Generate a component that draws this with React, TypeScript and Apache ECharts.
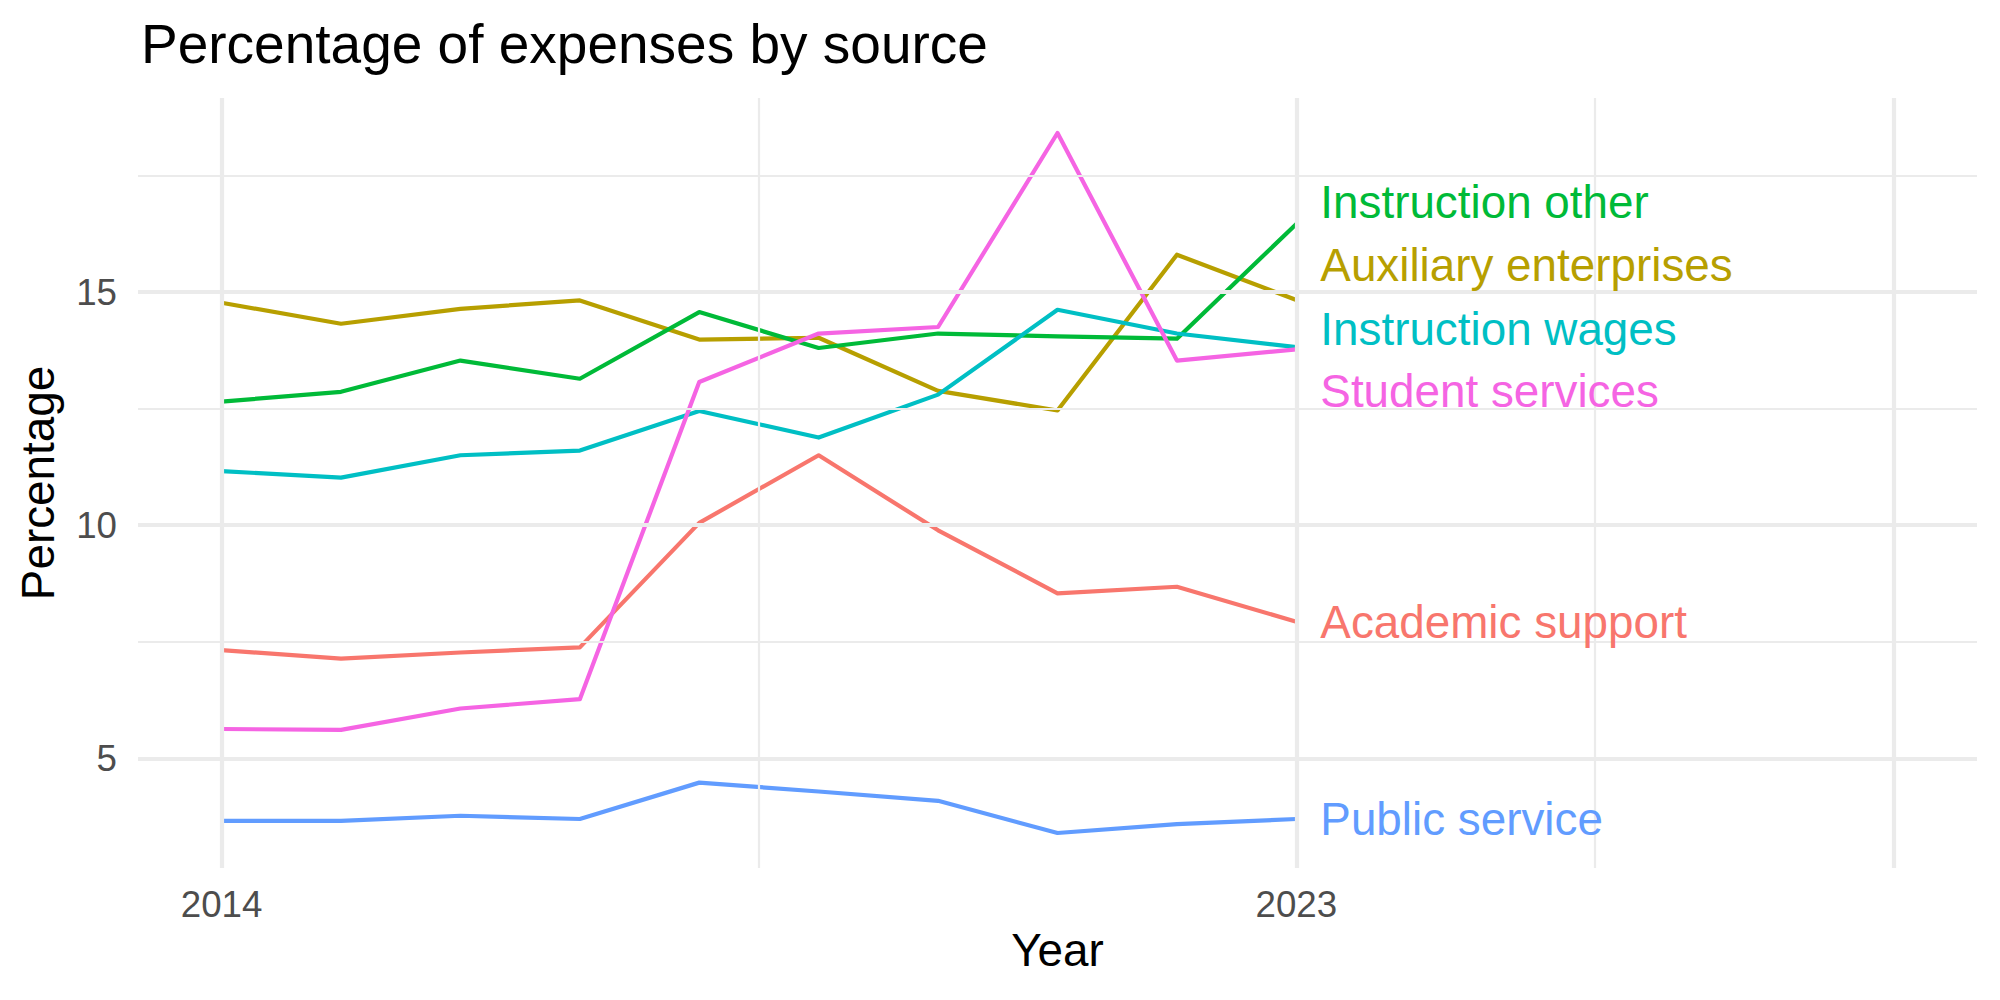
import React, { useEffect, useRef } from "react";
import * as echarts from "echarts";

const years = [2014, 2015, 2016, 2017, 2018, 2019, 2020, 2021, 2022, 2023];

const academicSupport = [7.32, 7.14, 7.27, 7.38, 10.05, 11.5, 9.89, 8.54, 8.68, 7.93];
const auxiliaryEnterprises = [14.77, 14.32, 14.64, 14.82, 13.98, 14.02, 12.88, 12.46, 15.8, 14.83];
const instructionOther = [12.65, 12.86, 13.53, 13.14, 14.57, 13.8, 14.11, 14.05, 14.0, 16.46];
const instructionWages = [11.16, 11.02, 11.5, 11.6, 12.45, 11.88, 12.8, 14.62, 14.11, 13.82];
const publicService = [3.66, 3.66, 3.77, 3.7, 4.48, 4.29, 4.09, 3.4, 3.59, 3.7];
const studentServices = [5.63, 5.61, 6.07, 6.27, 13.07, 14.11, 14.25, 18.41, 13.53, 13.77];

const seriesNames = [
  "Academic support",
  "Auxiliary enterprises",
  "Instruction other",
  "Instruction wages",
  "Public service",
  "Student services",
];
const seriesValues = [
  academicSupport,
  auxiliaryEnterprises,
  instructionOther,
  instructionWages,
  publicService,
  studentServices,
];
// label anchor values (after repelling), in data units
const labelValues = [7.92, 15.56, 16.91, 14.2, 3.69, 12.87];

const colors = ["#F8766D", "#B79F00", "#00BA38", "#00BFC4", "#619CFF", "#F564E3"];

const xTickLabels = [2014, 2023];
const yTickLabels = [5, 10, 15];
const xMajorGrid = [2014, 2023, 2028];
const xMinorGrid = [2018.5, 2025.5];
const yMajorGrid = [5, 10, 15];
const yMinorGrid = [7.5, 12.5, 17.5];

const xDataMax = 2028;

const FONT = "Liberation Sans";

export default function App() {
  const ref = useRef<HTMLDivElement>(null);

  useEffect(() => {
    document.body.style.margin = "0";
    if (!ref.current) return;
    const chart = echarts.init(ref.current, null, { renderer: "svg" });

    const xMin0 = years[0];
    const xSpan = xDataMax - xMin0;
    const allVals = seriesValues.flat();
    const yMin0 = Math.min(...allVals);
    const yMax0 = Math.max(...allVals);
    const ySpan = yMax0 - yMin0;

    const gridColor = "#EBEBEB";
    const major = 4.2;
    const minor = 2.2;

    const gridLines: any[] = [];
    xMajorGrid.forEach((v) => gridLines.push({ xAxis: v, lineStyle: { color: gridColor, width: major, type: "solid" } }));
    xMinorGrid.forEach((v) => gridLines.push({ xAxis: v, lineStyle: { color: gridColor, width: minor, type: "solid" } }));
    yMajorGrid.forEach((v) => gridLines.push({ yAxis: v, lineStyle: { color: gridColor, width: major, type: "solid" } }));
    yMinorGrid.forEach((v) => gridLines.push({ yAxis: v, lineStyle: { color: gridColor, width: minor, type: "solid" } }));

    const series: any[] = [
      {
        type: "line",
        name: "grid",
        data: [],
        z: 0,
        silent: true,
        markLine: {
          silent: true,
          symbol: ["none", "none"],
          label: { show: false },
          emphasis: { disabled: true },
          data: gridLines,
        },
      },
    ];

    seriesNames.forEach((name, i) => {
      series.push({
        type: "line",
        name,
        z: 2,
        data: years.map((y, j) => [y, seriesValues[i][j]]),
        showSymbol: false,
        symbol: "none",
        lineStyle: { color: colors[i], width: 4.2, join: "round", cap: "butt" },
        itemStyle: { color: colors[i] },
        markPoint: {
          symbol: "circle",
          symbolSize: 0,
          silent: true,
          data: [{ coord: [years[years.length - 1], labelValues[i]], value: name }],
          label: {
            show: true,
            position: [24, 0],
            align: "left",
            verticalAlign: "middle",
            formatter: () => name,
            color: colors[i],
            fontFamily: FONT,
            fontSize: 45.8,
          },
        },
      });
    });

    chart.setOption({
      animation: false,
      backgroundColor: "#FFFFFF",
      title: {
        text: "Percentage of expenses by source",
        left: 136,
        top: 11,
        textStyle: { fontFamily: FONT, fontSize: 55, fontWeight: "normal", color: "#000000" },
      },
      grid: { left: 138, right: 23, top: 98, bottom: 132, containLabel: false },
      xAxis: {
        type: "value",
        min: xMin0 - 0.05 * xSpan,
        max: xDataMax + 0.05 * xSpan,
        name: "Year",
        nameLocation: "middle",
        nameGap: 58,
        nameTextStyle: { fontFamily: FONT, fontSize: 45.8, color: "#000000" },
        axisLine: { show: false },
        axisTick: { show: false },
        splitLine: { show: false },
        axisLabel: {
          customValues: xTickLabels,
          margin: 18,
          fontFamily: FONT,
          fontSize: 36.7,
          color: "#4D4D4D",
          formatter: (v: number) => String(v),
        },
      },
      yAxis: {
        type: "value",
        min: yMin0 - 0.05 * ySpan,
        max: yMax0 + 0.05 * ySpan,
        name: "Percentage",
        nameLocation: "middle",
        nameGap: 77,
        nameRotate: 90,
        nameTextStyle: { fontFamily: FONT, fontSize: 45.8, color: "#000000" },
        axisLine: { show: false },
        axisTick: { show: false },
        splitLine: { show: false },
        axisLabel: {
          customValues: yTickLabels,
          margin: 21,
          fontFamily: FONT,
          fontSize: 36.7,
          color: "#4D4D4D",
          formatter: (v: number) => String(v),
        },
      },
      series,
    });

    return () => chart.dispose();
  }, []);

  return <div ref={ref} style={{ width: 2000, height: 1000 }} />;
}
